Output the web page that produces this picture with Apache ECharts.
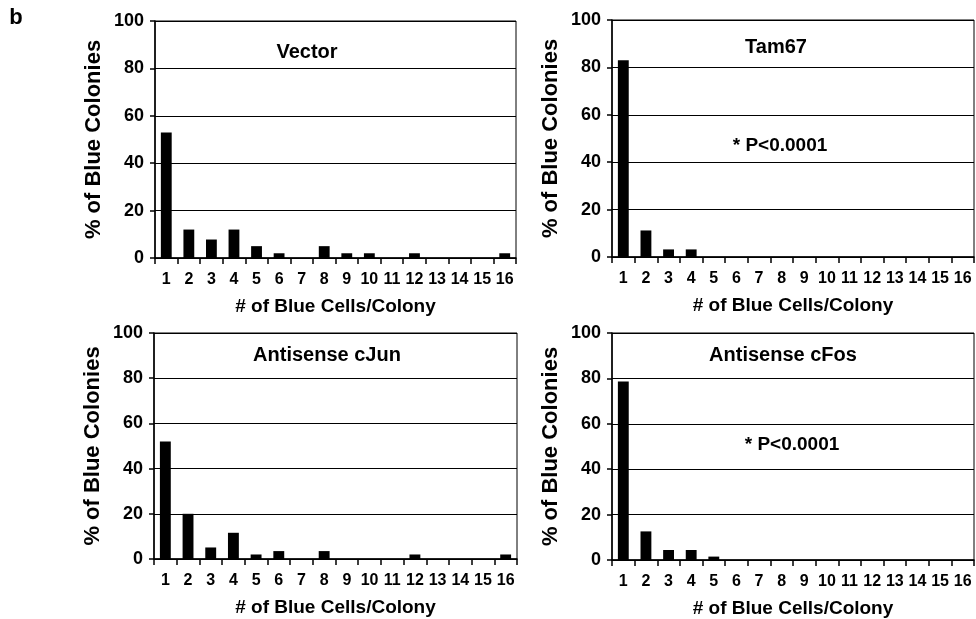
<!DOCTYPE html>
<html>
<head>
<meta charset="utf-8">
<script src="https://cdn.jsdelivr.net/npm/echarts@6/dist/echarts.min.js"></script>
<style>
  html, body { margin: 0; padding: 0; background: #fff; }
  #chart { width: 976px; height: 619px; }
</style>
</head>
<body>
<div id="chart"></div>
<script>
// number of blue cells per colony
const cells = ['1', '2', '3', '4', '5', '6', '7', '8', '9', '10', '11', '12', '13', '14', '15', '16'];
const yTicks = [0, 20, 40, 60, 80, 100];

// % of blue colonies, one array per construct
const vector = [53, 12, 7.8, 12, 5, 2, 0, 5, 2, 2, 0, 2, 0, 0, 0, 2];
const tam67 = [83, 11.2, 3.2, 3.2, 0, 0, 0, 0, 0, 0, 0, 0, 0, 0, 0, 0];
const antiJun = [52, 20, 5.1, 11.6, 2, 3.5, 0, 3.5, 0, 0, 0, 2, 0, 0, 0, 2];
const antiFos = [78.6, 12.6, 4.4, 4.4, 1.5, 0, 0, 0, 0, 0, 0, 0, 0, 0, 0, 0];

const panels = [
  {name: 'Vector', data: vector, grid: {left: 155, top: 21, width: 361, height: 237}},
  {name: 'Tam67', data: tam67, grid: {left: 612, top: 20, width: 362, height: 237}},
  {name: 'Antisense cJun', data: antiJun, grid: {left: 154, top: 333, width: 363, height: 226}},
  {name: 'Antisense cFos', data: antiFos, grid: {left: 612, top: 333, width: 362, height: 227}}
];

const font = 'Liberation Sans, Arial, sans-serif';

const option = {
  animation: false,
  backgroundColor: '#fff',
  textStyle: {fontFamily: font},
  grid: panels.map(p => Object.assign({show: true, borderColor: '#000', borderWidth: 1}, p.grid)),
  xAxis: panels.map((p, i) => ({
    type: 'category',
    gridIndex: i,
    data: cells,
    name: '# of Blue Cells/Colony',
    nameLocation: 'middle',
    nameGap: 39,
    nameTextStyle: {color: '#000', fontWeight: 'bold', fontSize: 19, fontFamily: font},
    axisLine: {lineStyle: {color: '#000', width: 1.5}},
    axisTick: {show: true, length: 6, lineStyle: {color: '#000', width: 1.5}},
    axisLabel: {color: '#000', fontWeight: 'bold', fontSize: 16, margin: 14, interval: 0, fontFamily: font}
  })),
  yAxis: panels.map((p, i) => ({
    type: 'value',
    gridIndex: i,
    min: yTicks[0],
    max: yTicks[yTicks.length - 1],
    interval: 20,
    name: '% of Blue Colonies',
    nameLocation: 'middle',
    nameGap: 50,
    nameTextStyle: {color: '#000', fontWeight: 'bold', fontSize: 22, fontFamily: font},
    axisLine: {show: true, lineStyle: {color: '#000', width: 1.5}},
    axisTick: {show: true, length: 5, lineStyle: {color: '#000', width: 1.5}},
    axisLabel: {color: '#000', fontWeight: 'bold', fontSize: 18, margin: 11, fontFamily: font},
    splitLine: {show: true, lineStyle: {color: '#000', width: 1}}
  })),
  series: panels.map((p, i) => ({
    name: p.name,
    type: 'bar',
    xAxisIndex: i,
    yAxisIndex: i,
    data: p.data,
    barWidth: '48%',
    itemStyle: {color: '#000'}
  })),
  graphic: [
    {type: 'text', x: 16, y: 18, style: {text: 'b', font: 'bold 22px ' + font, fill: '#000', align: 'center', verticalAlign: 'middle'}},
    {type: 'text', x: 307, y: 52, style: {text: 'Vector', font: 'bold 20px ' + font, fill: '#000', align: 'center', verticalAlign: 'middle'}},
    {type: 'text', x: 776, y: 47, style: {text: 'Tam67', font: 'bold 20px ' + font, fill: '#000', align: 'center', verticalAlign: 'middle'}},
    {type: 'text', x: 780, y: 146, style: {text: '* P<0.0001', font: 'bold 19px ' + font, fill: '#000', align: 'center', verticalAlign: 'middle'}},
    {type: 'text', x: 327, y: 355, style: {text: 'Antisense cJun', font: 'bold 20px ' + font, fill: '#000', align: 'center', verticalAlign: 'middle'}},
    {type: 'text', x: 783, y: 355, style: {text: 'Antisense cFos', font: 'bold 20px ' + font, fill: '#000', align: 'center', verticalAlign: 'middle'}},
    {type: 'text', x: 792, y: 445, style: {text: '* P<0.0001', font: 'bold 19px ' + font, fill: '#000', align: 'center', verticalAlign: 'middle'}}
  ]
};

const myChart = echarts.init(document.getElementById('chart'));
myChart.setOption(option);
</script>
</body>
</html>
